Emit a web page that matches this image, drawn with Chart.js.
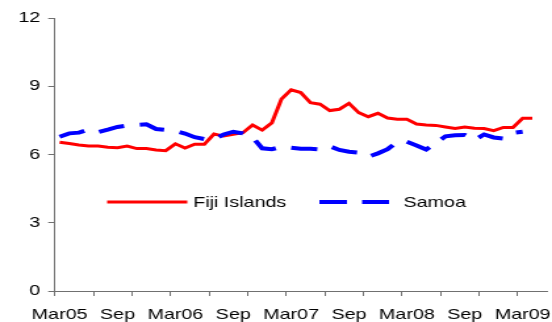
<!DOCTYPE html>
<html>
<head>
<meta charset="utf-8">
<script src="https://cdn.jsdelivr.net/npm/chart.js@4"></script>
<style>
  html, body { margin: 0; padding: 0; background: #fff; }
</style>
</head>
<body>
<!-- the reference is drawn a little wide, so the canvas is stretched sideways -->
<canvas id="chart" width="420" height="322" style="width:552px;height:322px;display:block"></canvas>
<script>
// monthly categories, Mar05 .. May09 (the last slots stay empty)
const months = [
    'Mar05', 'Apr05', 'May05', 'Jun05', 'Jul05', 'Aug05', 'Sep05', 'Oct05', 'Nov05', 'Dec05',
    'Jan06', 'Feb06', 'Mar06', 'Apr06', 'May06', 'Jun06', 'Jul06', 'Aug06', 'Sep06', 'Oct06', 'Nov06', 'Dec06',
    'Jan07', 'Feb07', 'Mar07', 'Apr07', 'May07', 'Jun07', 'Jul07', 'Aug07', 'Sep07', 'Oct07', 'Nov07', 'Dec07',
    'Jan08', 'Feb08', 'Mar08', 'Apr08', 'May08', 'Jun08', 'Jul08', 'Aug08', 'Sep08', 'Oct08', 'Nov08', 'Dec08',
    'Jan09', 'Feb09', 'Mar09', 'Apr09', 'May09'
];

// labels shown under every sixth month
const tickLabels = ['Mar05', 'Sep', 'Mar06', 'Sep', 'Mar07', 'Sep', 'Mar08', 'Sep', 'Mar09'];

const fiji = [
    6.54, 6.48, 6.42, 6.37, 6.37, 6.32, 6.30, 6.37, 6.26, 6.26,
    6.20, 6.17, 6.47, 6.28, 6.45, 6.45, 6.90, 6.81, 6.89, 6.96,
    7.30, 7.07, 7.39, 8.44, 8.84, 8.72, 8.28, 8.21, 7.93, 7.99,
    8.25, 7.84, 7.66, 7.81, 7.60, 7.55, 7.55, 7.34, 7.30, 7.28,
    7.21, 7.14, 7.21, 7.15, 7.14, 7.05, 7.19, 7.19, 7.59, 7.59
];

const samoa = [
    6.78, 6.93, 6.96, 7.10, 6.98, 7.09, 7.21, 7.27, 7.30, 7.33,
    7.12, 7.08, 7.03, 6.92, 6.76, 6.68, 6.66, 6.88, 7.00, 6.93,
    6.76, 6.27, 6.23, 6.34, 6.30, 6.25, 6.25, 6.22, 6.36, 6.20,
    6.12, 6.08, 5.90, 6.05, 6.23, 6.56, 6.56, 6.40, 6.22, 6.50,
    6.80, 6.85, 6.86, 6.64, 6.88, 6.75, 6.70, 6.95, 7.00
];

const FONT = "'Liberation Sans', Arial, sans-serif";
const AXIS_COLOR = '#707070';

// legend sits inside the plot, drawn by hand from the dataset styles
const insideLegend = {
    id: 'insideLegend',
    afterDraw(chart) {
        const ctx = chart.ctx;
        const [f, s] = chart.data.datasets;
        const y = 202;
        ctx.save();
        ctx.lineCap = 'butt';

        ctx.strokeStyle = f.borderColor;
        ctx.lineWidth = f.borderWidth;
        ctx.beginPath();
        ctx.moveTo(81.5, y);
        ctx.lineTo(142.5, y);
        ctx.stroke();

        ctx.strokeStyle = s.borderColor;
        ctx.lineWidth = s.borderWidth;
        ctx.setLineDash([21, 11.5]);
        ctx.beginPath();
        ctx.moveTo(243, y);
        ctx.lineTo(296, y);
        ctx.stroke();
        ctx.setLineDash([]);

        ctx.fillStyle = '#000';
        ctx.font = '15px ' + FONT;
        ctx.textBaseline = 'middle';
        ctx.fillText(f.label, 147, y + 1);
        ctx.fillText(s.label, 307, y + 1);
        ctx.restore();
    }
};

new Chart(document.getElementById('chart').getContext('2d'), {
    type: 'line',
    data: {
        labels: months,
        datasets: [
            {
                label: 'Fiji Islands', data: fiji, borderColor: '#ff0000', borderWidth: 3,
                pointRadius: 0, tension: 0, fill: false, order: 1
            },
            {
                label: 'Samoa', data: samoa, borderColor: '#0000ff', borderWidth: 4,
                borderDash: [20, 12], pointRadius: 0, tension: 0, fill: false, order: 0
            }
        ]
    },
    options: {
        responsive: false,
        animation: false,
        devicePixelRatio: 1,
        layout: { padding: { left: 8, right: 4, top: 18, bottom: 0 } },
        plugins: { legend: { display: false }, tooltip: { enabled: false } },
        scales: {
            x: {
                offset: true,
                // keep the first label from pushing the plot to the right
                afterFit: (scale) => { scale.paddingLeft = 0; scale.paddingRight = 0; scale.height = 31; },
                grid: {
                    offset: true,
                    drawOnChartArea: false,
                    tickLength: 5,
                    color: (c) => (c.index !== undefined && c.index % 4 === 0 ? AXIS_COLOR : 'rgba(0,0,0,0)')
                },
                border: { color: AXIS_COLOR, width: 1 },
                ticks: {
                    autoSkip: false,
                    maxRotation: 0,
                    padding: 10,
                    color: '#000',
                    font: { family: FONT, size: 15 },
                    callback: (v, i) => (i % 6 === 0 ? tickLabels[i / 6] : '')
                }
            },
            y: {
                min: 0,
                max: 12,
                grid: { drawOnChartArea: false, tickLength: 5, color: AXIS_COLOR },
                border: { color: AXIS_COLOR, width: 1 },
                ticks: { stepSize: 3, padding: 6, color: '#000', font: { family: FONT, size: 15 } }
            }
        }
    },
    plugins: [insideLegend]
});
</script>
</body>
</html>
